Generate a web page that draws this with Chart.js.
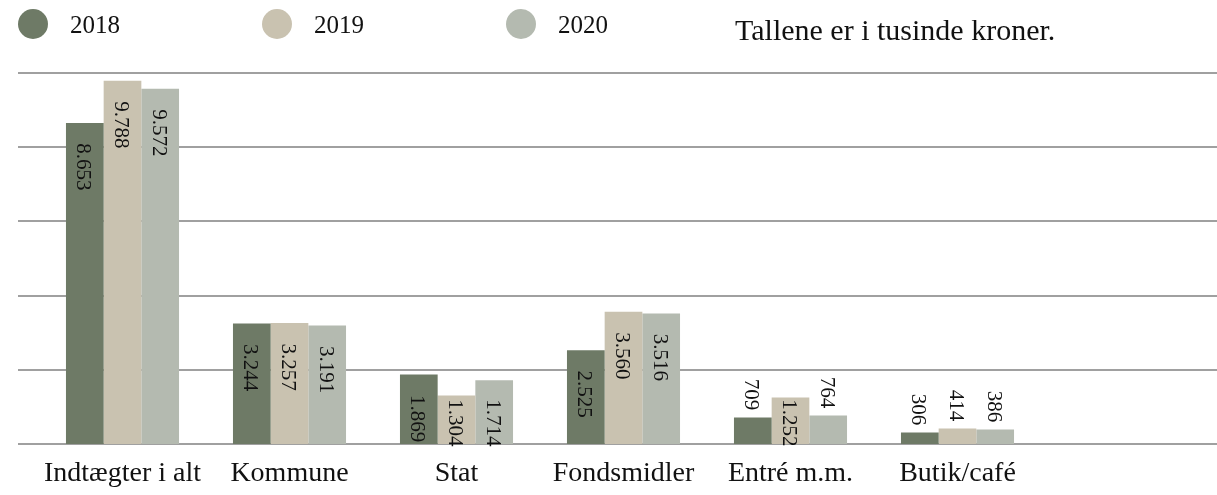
<!DOCTYPE html>
<html lang="da">
<head>
<meta charset="utf-8">
<title>Indtægter 2018-2020</title>
<script src="https://cdn.jsdelivr.net/npm/chart.js@4.4.1/dist/chart.umd.min.js"></script>
<style>
    body { margin: 0; background: #fff; }
    #wrap { position: relative; width: 1217px; height: 495px; font-family: "Liberation Serif", serif; color: #111; }
    #wrap canvas { position: absolute; left: 0; top: 0; }
    .dot { position: absolute; width: 30px; height: 30px; border-radius: 50%; top: 9px; }
    .lbl { position: absolute; top: 10px; font-size: 25px; line-height: 30px; }
    #note { position: absolute; left: 735px; top: 12px; font-size: 30px; line-height: 36px; }
</style>
</head>
<body>
<div id="wrap">
    <canvas id="incomeChart" width="1217" height="495"></canvas>
    <div id="legend"></div>
    <div id="note">Tallene er i tusinde kroner.</div>
</div>
<script>
const categories = ['Indtægter i alt', 'Kommune', 'Stat', 'Fondsmidler', 'Entré m.m.', 'Butik/café', ''];
const years = ['2018', '2019', '2020'];
const values2018 = [8653, 3244, 1869, 2525, 709, 306];
const values2019 = [9788, 3257, 1304, 3560, 1252, 414];
const values2020 = [9572, 3191, 1714, 3516, 764, 386];
const colors = ['#6e7a66', '#c9c2b0', '#b4bab0'];
const yMax = 10000;
const yStep = 2000;

// 8653 -> "8.653"
const fmt = (v) => String(v).replace(/\B(?=(\d{3})+(?!\d))/g, '.');

// legend as plain html
const legend = document.getElementById('legend');
years.forEach((year, i) => {
    const dot = document.createElement('div');
    dot.className = 'dot';
    dot.style.left = (18 + i * 244) + 'px';
    dot.style.background = colors[i];
    legend.appendChild(dot);
    const lbl = document.createElement('div');
    lbl.className = 'lbl';
    lbl.style.left = (70 + i * 244) + 'px';
    lbl.textContent = year;
    legend.appendChild(lbl);
});

// horizontal lines, wider than the plot area
const gridLines = {
    id: 'gridLines',
    beforeDatasetsDraw(chart) {
        const { ctx } = chart;
        const y = chart.scales.y;
        ctx.save();
        ctx.strokeStyle = '#a0a0a0';
        ctx.lineWidth = 2;
        y.ticks.forEach(t => {
            const py = Math.round(y.getPixelForValue(t.value));
            ctx.beginPath();
            ctx.moveTo(18, py);
            ctx.lineTo(chart.width, py);
            ctx.stroke();
        });
        ctx.restore();
    }
};

// rotated value labels
const barLabels = {
    id: 'barLabels',
    afterDatasetsDraw(chart) {
        const { ctx } = chart;
        ctx.save();
        ctx.font = '21px "Liberation Serif", serif';
        ctx.fillStyle = '#111';
        ctx.textAlign = 'center';
        ctx.textBaseline = 'middle';
        chart.data.datasets.forEach((ds, di) => {
            chart.getDatasetMeta(di).data.forEach((bar, i) => {
                const v = ds.data[i];
                if (v == null) return;
                let cy;
                if (v >= 1000) {
                    cy = Math.min(bar.y + 44, bar.base - 21);
                } else {
                    cy = bar.y - 23;
                }
                ctx.save();
                ctx.translate(bar.x - 2, cy);
                ctx.rotate(Math.PI / 2);
                ctx.fillText(fmt(v), 0, 0);
                ctx.restore();
            });
        });
        ctx.restore();
    }
};

new Chart(document.getElementById('incomeChart'), {
    type: 'bar',
    data: {
        labels: categories,
        datasets: [
            { label: years[0], data: values2018, backgroundColor: colors[0] },
            { label: years[1], data: values2019, backgroundColor: colors[1] },
            { label: years[2], data: values2020, backgroundColor: colors[2] }
        ]
    },
    options: {
        responsive: false,
        animation: false,
        layout: { padding: { left: 39, right: 9, top: 73, bottom: -8.5 } },
        datasets: { bar: { categoryPercentage: 0.677, barPercentage: 1 } },
        plugins: { legend: { display: false }, tooltip: { enabled: false } },
        scales: {
            x: {
                grid: { display: false, drawTicks: false },
                border: { display: false },
                ticks: {
                    color: '#111',
                    font: { family: '"Liberation Serif", serif', size: 28 },
                    padding: 13,
                    maxRotation: 0,
                    autoSkip: false
                }
            },
            y: {
                display: false,
                min: 0,
                max: yMax,
                ticks: { stepSize: yStep }
            }
        }
    },
    plugins: [gridLines, barLabels]
});
</script>
</body>
</html>
